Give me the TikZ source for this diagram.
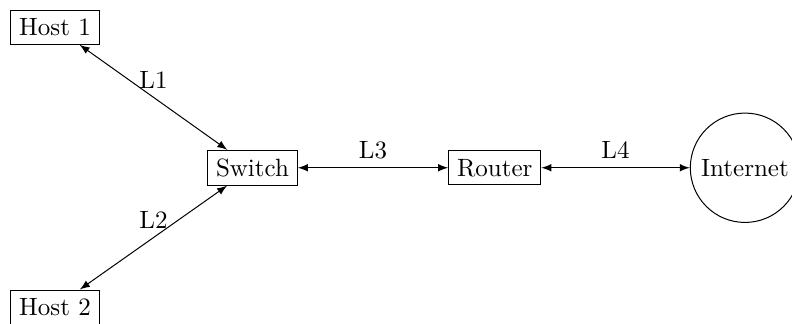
\documentclass[tikz,border=0pt]{standalone}
\usetikzlibrary{arrows}
\begin{document}
\begin{tikzpicture}[x=1pt,y=1pt,
  dev/.style={draw},
  cloud/.style={draw,circle},
  link/.style={latex-latex},
  lbl/.style={midway,above}]
\useasboundingbox (0,0) rectangle (316.8,-129.2);
\node[dev] (h1) at (22.0,-10.9) {Host 1};
\node[dev] (h2) at (22.0,-122.8) {Host 2};
\node[dev] (sw) at (101.0,-67.1) {Switch};
\node[dev] (rt) at (197.9,-67.1) {Router};
\node[cloud] (in) at (298.0,-67.1) {Internet};
\draw[link] (h1) -- node[lbl] {L1} (sw);
\draw[link] (sw) -- node[lbl] {L2} (h2);
\draw[link] (sw) -- node[lbl] {L3} (rt);
\draw[link] (rt) -- node[lbl] {L4} (in);
\end{tikzpicture}
\end{document}
